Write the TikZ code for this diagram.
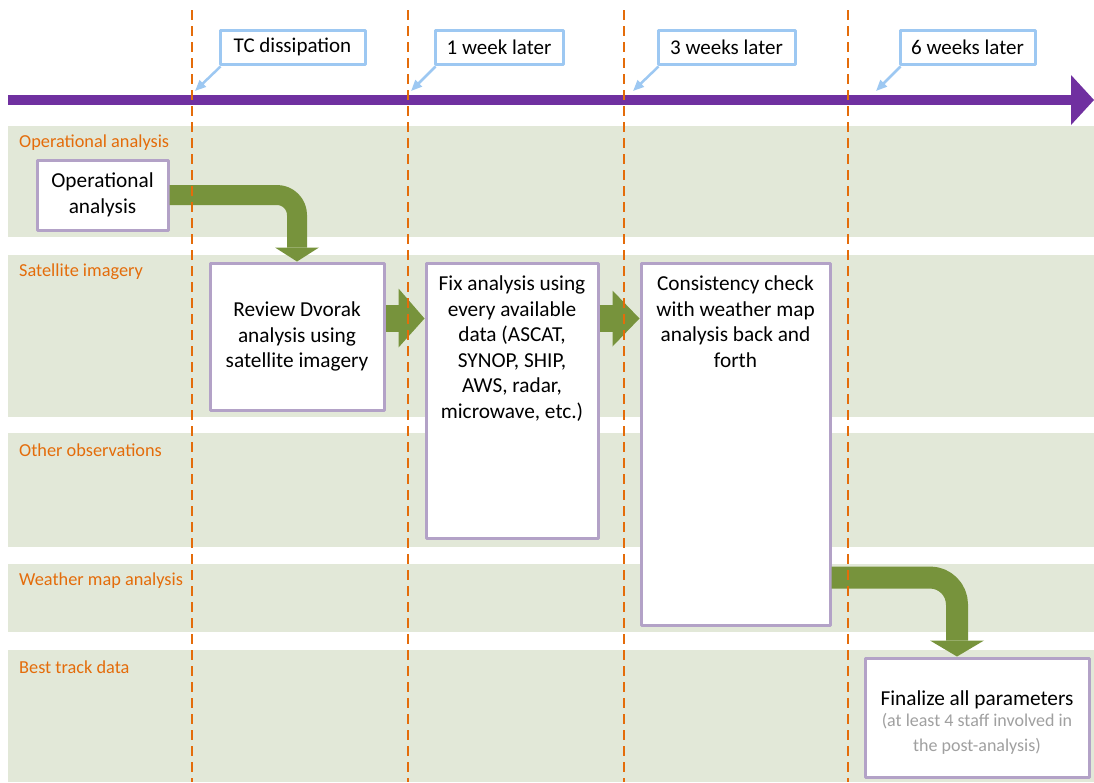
\documentclass[tikz,border=0pt]{standalone}
\usepackage{fontspec}
\setmainfont{Carlito}
\usetikzlibrary{arrows.meta}
\definecolor{lanegreen}{HTML}{E2E8D8}
\definecolor{laneorange}{HTML}{E46C0A}
\definecolor{boxpurple}{HTML}{B3A2C7}
\definecolor{linepurple}{HTML}{7030A0}
\definecolor{flowgreen}{HTML}{77933C}
\definecolor{calloutblue}{HTML}{9DC8F2}
\definecolor{notegray}{HTML}{A0A0A0}
\tikzset{
  lanelabel/.style={text=laneorange, anchor=west, inner sep=0pt, font=\fontsize{18.3}{22}\selectfont},
  stepbox/.style={draw=boxpurple, line width=3pt, fill=white, align=center},
  toptext/.style={anchor=north, yshift=-11pt, align=center},
  callout/.style={draw=calloutblue, line width=3pt, fill=white, minimum height=34pt, font=\fontsize{21}{25}\selectfont},
  pointer/.style={draw=calloutblue, fill=calloutblue, line width=2.5pt, -{Triangle[length=11pt,width=9pt]}},
  flowline/.style={draw=flowgreen},
  milestone/.style={draw=laneorange, line width=2.2pt, dash pattern=on 10pt off 6pt}
}
\newcommand\notefont{\color{notegray}\fontsize{18}{24}\selectfont}
\begin{document}
\begin{tikzpicture}[x=1pt, y=-1pt, line join=round, font=\fontsize{21.3}{25.5}\selectfont]
\useasboundingbox (0,0) rectangle (1094,782);
% swim lanes
\foreach \t/\b/\name in {126/237/Operational analysis, 255/417/Satellite imagery, 433/547/Other observations, 564/632/Weather map analysis, 650/782/Best track data}{
  \fill[lanegreen] (8,\t) rectangle (1094,\b);
  \node[lanelabel] (lab\t) at (19,\t+17) {\name};
}
% time line
\coordinate (tstart) at (8,100);
\coordinate (tend) at (1094,100);
\draw[linepurple, line width=10pt] (tstart) -- (1071,100);
\fill[linepurple] (1071,75) -- (tend) -- (1071,125) -- cycle;
% milestones
\node[callout, minimum width=145pt] (tc) at (292.5,47) {TC dissipation};
\node[callout, minimum width=128pt] (w1) at (499,47) {1 week later};
\node[callout, minimum width=137pt] (w3) at (726.5,47) {3 weeks later};
\node[callout, minimum width=135pt] (w6) at (967.5,47) {6 weeks later};
\foreach \n/\x in {tc/195, w1/411, w3/633, w6/876}{
  \coordinate (p\n) at (\x,91);
  \draw[pointer] ([xshift=2pt,yshift=-1pt]\n.south west) -- (p\n);
}
% steps
\node[stepbox, minimum width=131pt, minimum height=70pt] (opbox) at (102.5,195) {Operational\\analysis};
\node[stepbox, minimum width=174pt, minimum height=147pt] (dvorak) at (297,336.5) {Review Dvorak\\analysis using\\satellite imagery};
\node[stepbox, minimum width=172pt, minimum height=275pt,
  label={[toptext]north:{Fix analysis using\\every available\\data (ASCAT,\\SYNOP, SHIP,\\AWS, radar,\\microwave, etc.)}}] (fixbox) at (512,400.5) {};
\node[stepbox, minimum width=189pt, minimum height=362pt,
  label={[toptext]north:{Consistency check\\with weather map\\analysis back and\\forth}}] (consbox) at (735.5,444) {};
\node[stepbox, minimum width=224pt, minimum height=119pt,
  label={[anchor=center, yshift=-5.5pt, align=center]center:{Finalize all parameters\\[-5pt]{\notefont (at least 4 staff involved in}\\{\notefont the post-analysis)}}}] (finalbox) at (977,717.5) {};
% flow arrows
\draw[flowline, line width=20pt, rounded corners=20pt] (opbox.east) -| ([yshift=14pt]dvorak.north);
\fill[flowgreen] ([xshift=-22pt,yshift=14pt]dvorak.north) -- (dvorak.north) -- ([xshift=22pt,yshift=14pt]dvorak.north) -- cycle;
\draw[flowline, line width=27pt] ([yshift=-57pt]dvorak.north east) -- ([xshift=-26pt,yshift=-57pt]fixbox.north west);
\fill[flowgreen] ([xshift=-26pt,yshift=-27pt]fixbox.north west) -- ([yshift=-57pt]fixbox.north west) -- ([xshift=-26pt,yshift=-86pt]fixbox.north west) -- cycle;
\draw[flowline, line width=27pt] ([yshift=-57pt]fixbox.north east) -- ([xshift=-27pt,yshift=-57pt]consbox.north west);
\fill[flowgreen] ([xshift=-27pt,yshift=-29pt]consbox.north west) -- ([yshift=-57pt]consbox.north west) -- ([xshift=-27pt,yshift=-85pt]consbox.north west) -- cycle;
\draw[flowline, line width=22pt, rounded corners=27pt] ([yshift=49pt]consbox.south east) -| ([xshift=-20pt,yshift=16pt]finalbox.north);
\fill[flowgreen] ([xshift=-47pt,yshift=16pt]finalbox.north) -- ([xshift=-20pt]finalbox.north) -- ([xshift=7pt,yshift=16pt]finalbox.north) -- cycle;
\foreach \x in {192,408,624,848}
  \draw[milestone] (\x,10) -- (\x,782);
\end{tikzpicture}
\end{document}
